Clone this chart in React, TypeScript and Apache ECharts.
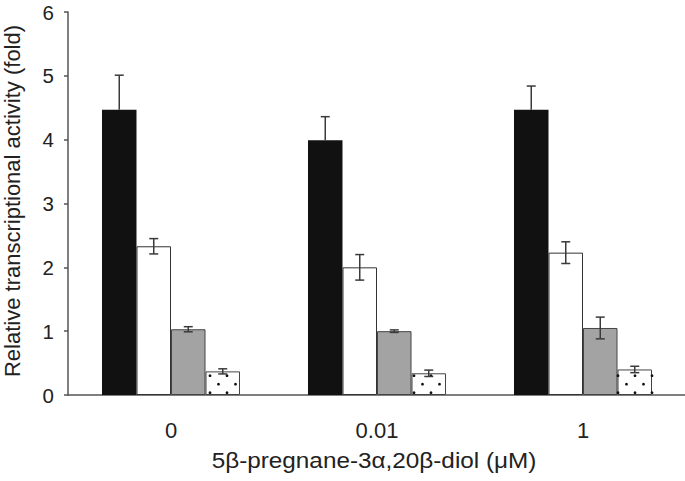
import React, { useEffect, useRef } from "react";
import * as echarts from "echarts";

const categories = ["0", "0.01", "1"];
const yTicks = [0, 1, 2, 3, 4, 5, 6];
const seriesNames = ["Black", "White", "Gray", "Dotted"];
const blackVals = [4.47, 3.99, 4.47];
const blackErr = [0.54, 0.37, 0.37];
const whiteVals = [2.33, 2.0, 2.23];
const whiteErr = [0.12, 0.2, 0.17];
const grayVals = [1.03, 1.0, 1.05];
const grayErr = [0.04, 0.02, 0.17];
const dotVals = [0.37, 0.34, 0.4];
const dotErr = [0.04, 0.05, 0.05];
const xTitle = "5β-pregnane-3α,20β-diol (μM)";
const yTitle = "Relative transcriptional activity (fold)";

const allVals = [blackVals, whiteVals, grayVals, dotVals];
const allErr = [blackErr, whiteErr, grayErr, dotErr];
const GROUP_FRAC = 0.67;
const FONT = "Liberation Sans, Arial, sans-serif";

function barGeom(api: any, cat: number, sIdx: number) {
  const center = api.coord([cat, 0])[0];
  const band = api.size([1, 0])[0];
  const bw = (band * GROUP_FRAC) / 4;
  const left = center - (band * GROUP_FRAC) / 2 + sIdx * bw;
  return { left, bw, cx: left + bw / 2 };
}

export default function App() {
  const ref = useRef<HTMLDivElement>(null);
  useEffect(() => {
    if (!ref.current) return;
    const chart = echarts.init(ref.current, null, { renderer: "svg" });
    const barStyles = [
      { color: "#111111", borderColor: "#111111", borderWidth: 0 },
      { color: "#ffffff", borderColor: "#333333", borderWidth: 1 },
      { color: "#a3a3a3", borderColor: "#444444", borderWidth: 1 },
      { color: "#ffffff", borderColor: "#444444", borderWidth: 1 },
    ];
    const bars = seriesNames.map((name, i) => ({
      name,
      type: "bar",
      data: allVals[i],
      barGap: "0%",
      barCategoryGap: "33%",
      itemStyle: barStyles[i],
      z: 2,
    }));
    const dotData = dotVals.map((v, i) => [i, v]);
    const dots = {
      type: "custom",
      name: "dots",
      z: 3,
      data: dotData,
      renderItem: (params: any, api: any) => {
        const cat = api.value(0);
        const v = api.value(1);
        const g = barGeom(api, cat, 3);
        const top = api.coord([cat, v])[1];
        const base = api.coord([cat, 0])[1];
        const gridLeft = api.coord([0, 0])[0] - api.size([1, 0])[0] / 2;
        const sp = 17;
        const rowH = 8.5;
        const children: any[] = [];
        let row = 0;
        for (let y = base - 2.3; y > top + 0.5; y -= rowH, row++) {
          const phase = 6 + (row % 2 === 1 ? sp / 2 : 0);
          const startK = Math.ceil((g.left - gridLeft - phase) / sp);
          for (let k = startK; ; k++) {
            const x = gridLeft + phase + k * sp;
            if (x > g.left + g.bw + 0.5) break;
            if (x < g.left - 0.5) continue;
            children.push({
              type: "circle",
              shape: { cx: x, cy: y, r: 1.4 },
              style: { fill: "#111" },
            });
          }
        }
        return { type: "group", children };
      },
    };
    const errSeries = seriesNames.map((name, sIdx) => ({
      type: "custom",
      name: name + " error",
      z: 4,
      data: allVals[sIdx].map((v, i) => [i, v, allErr[sIdx][i]]),
      renderItem: (params: any, api: any) => {
        const cat = api.value(0);
        const v = api.value(1);
        const e = api.value(2);
        const g = barGeom(api, cat, sIdx);
        const yTop = api.coord([cat, v + e])[1];
        const yMid = api.coord([cat, v])[1];
        const yBot = api.coord([cat, v - e])[1];
        const cap = 4.5;
        const st = { stroke: "#3a3a3a", lineWidth: 1.5 };
        const children: any[] = [
          { type: "line", shape: { x1: g.cx, y1: yTop, x2: g.cx, y2: sIdx === 0 ? yMid : yBot }, style: st },
          { type: "line", shape: { x1: g.cx - cap, y1: yTop, x2: g.cx + cap, y2: yTop }, style: st },
        ];
        if (sIdx !== 0) {
          children.push({ type: "line", shape: { x1: g.cx - cap, y1: yBot, x2: g.cx + cap, y2: yBot }, style: st });
        }
        return { type: "group", children };
      },
    }));
    chart.setOption({
      animation: false,
      backgroundColor: "#ffffff",
      grid: { left: 68, right: -1, top: 12, bottom: 86, outerBoundsMode: "none", containLabel: false },
      xAxis: {
        type: "category",
        data: categories,
        axisLine: { lineStyle: { color: "#555", width: 1.5 } },
        axisTick: { show: false },
        axisLabel: { fontSize: 22, color: "#222", fontFamily: FONT, margin: 24 },
      },
      yAxis: {
        type: "value",
        min: yTicks[0],
        max: yTicks[yTicks.length - 1],
        interval: 1,
        axisLine: { show: true, lineStyle: { color: "#555", width: 1.5 } },
        axisTick: { show: true, length: 4, lineStyle: { color: "#555", width: 1.5 } },
        splitLine: { show: false },
        axisLabel: { fontSize: 20.5, lineHeight: 16, color: "#222", fontFamily: FONT, margin: 14 },
      },
      graphic: [
        {
          type: "text",
          x: 374,
          y: 461,
          scaleX: 1.13,
          style: {
            text: xTitle,
            fontSize: 21.5,
            fill: "#222",
            fontFamily: FONT,
            textAlign: "center",
            textVerticalAlign: "middle",
          },
        },
        {
          type: "text",
          x: 12,
          y: 201,
          rotation: Math.PI / 2,
          style: {
            text: yTitle,
            fontSize: 22,
            lineHeight: 20,
            fill: "#222",
            fontFamily: FONT,
            textAlign: "center",
            textVerticalAlign: "middle",
          },
        },
      ],
      series: [...bars, dots, ...errSeries],
    });
    return () => chart.dispose();
  }, []);
  return <div ref={ref} style={{ width: 685, height: 481, position: "absolute", left: 0, top: 0 }} />;
}
